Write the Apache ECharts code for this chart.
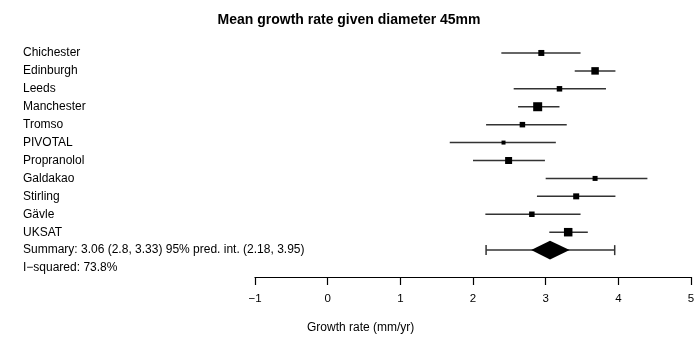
<!DOCTYPE html>
<html>
<head>
<meta charset="utf-8">
<script src="https://cdn.jsdelivr.net/npm/echarts@6/dist/echarts.min.js"></script>
<style>html,body{margin:0;padding:0;background:#fff}#c{width:698px;height:339px}</style>
</head>
<body>
<div id="c"></div>
<script>
var studies = ['Chichester','Edinburgh','Leeds','Manchester','Tromso','PIVOTAL','Propranolol','Galdakao','Stirling','Gävle','UKSAT'];
var estimates = [2.94, 3.68, 3.19, 2.89, 2.68, 2.42, 2.49, 3.68, 3.42, 2.81, 3.31];
var lower = [2.39, 3.40, 2.56, 2.62, 2.18, 1.68, 2.00, 3.00, 2.88, 2.17, 3.05];
var upper = [3.48, 3.96, 3.83, 3.19, 3.29, 3.14, 2.99, 4.40, 3.96, 3.48, 3.58];
var weights = [6, 7.5, 5.5, 9, 5.5, 4, 7, 5, 6, 5.5, 8.5];
var summaryEst = 3.06, summaryLo = 2.8, summaryHi = 3.33, predLo = 2.18, predHi = 3.95;
var i2 = 73.8;
var xTicks = [-1, 0, 1, 2, 3, 4, 5];

var summaryLabel = 'Summary: ' + summaryEst.toFixed(2) + ' (' + summaryLo + ', ' + summaryHi + ') 95% pred. int. (' + predLo + ', ' + predHi + ')';
var rowLabels = studies.concat([summaryLabel, 'I\u2212squared: ' + i2 + '%']);

var studyData = studies.map(function(s, i){ return [estimates[i], lower[i], upper[i], weights[i], i]; });
var summaryData = [[summaryEst, summaryLo, summaryHi, predLo, predHi, studies.length]];

var FONT = 'Liberation Sans, Arial, sans-serif';
var chart = echarts.init(document.getElementById('c'));
chart.setOption({
  animation: false,
  title: { text: 'Mean growth rate given diameter 45mm', left: 'center', top: 8,
    textStyle: { fontFamily: FONT, fontSize: 14, fontWeight: 'bold', color: '#000' } },
  grid: { left: 255, right: 7, top: 44, bottom: 62 },
  xAxis: { type: 'value', min: xTicks[0], max: xTicks[xTicks.length-1], interval: 1,
    axisLine: { show: true, lineStyle: { color: '#000', width: 1.2 } },
    axisTick: { show: true, length: 8, lineStyle: { color: '#000', width: 1.2 } },
    splitLine: { show: false },
    axisLabel: { margin: 16, color: '#000', fontFamily: FONT, fontSize: 11.5,
      formatter: function(v){ return v < 0 ? '\u2212' + Math.abs(v) : String(v); } } },
  yAxis: { type: 'category', data: rowLabels, inverse: true,
    axisLine: { show: false }, axisTick: { show: false }, splitLine: { show: false },
    axisLabel: { align: 'left', margin: 232, color: '#000', fontFamily: FONT, fontSize: 12 } },
  graphic: [{ type: 'text', left: 307, top: 322,
    style: { text: 'Growth rate (mm/yr)', font: '12px ' + FONT, fill: '#000' } }],
  series: [
    { type: 'custom', data: studyData, encode: { x: [0,1,2], y: 4 },
      renderItem: function(params, api){
        var y = api.value(4);
        var pe = api.coord([api.value(0), y]);
        var pl = api.coord([api.value(1), y]);
        var ph = api.coord([api.value(2), y]);
        var s = api.value(3);
        return { type: 'group', children: [
          { type: 'line', shape: { x1: pl[0], y1: pl[1], x2: ph[0], y2: ph[1] },
            style: { stroke: '#333', lineWidth: 1.5 } },
          { type: 'rect', shape: { x: pe[0]-s/2, y: pe[1]-s/2, width: s, height: s },
            style: { fill: '#000' } }
        ]};
      } },
    { type: 'custom', data: summaryData, encode: { x: [0,1,2,3,4], y: 5 },
      renderItem: function(params, api){
        var y = api.value(5);
        var pe = api.coord([api.value(0), y]);
        var pl = api.coord([api.value(1), y]);
        var ph = api.coord([api.value(2), y]);
        var ql = api.coord([api.value(3), y]);
        var qh = api.coord([api.value(4), y]);
        var h = 9.3, c = 5;
        return { type: 'group', children: [
          { type: 'line', shape: { x1: ql[0], y1: ql[1], x2: qh[0], y2: qh[1] }, style: { stroke: '#333', lineWidth: 1.5 } },
          { type: 'line', shape: { x1: ql[0], y1: ql[1]-c, x2: ql[0], y2: ql[1]+c }, style: { stroke: '#333', lineWidth: 1.5 } },
          { type: 'line', shape: { x1: qh[0], y1: qh[1]-c, x2: qh[0], y2: qh[1]+c }, style: { stroke: '#333', lineWidth: 1.5 } },
          { type: 'polygon', shape: { points: [[pl[0], pl[1]], [pe[0], pe[1]-h], [ph[0], ph[1]], [pe[0], pe[1]+h]] },
            style: { fill: '#000' } }
        ]};
      } }
  ]
});
</script>
</body>
</html>
